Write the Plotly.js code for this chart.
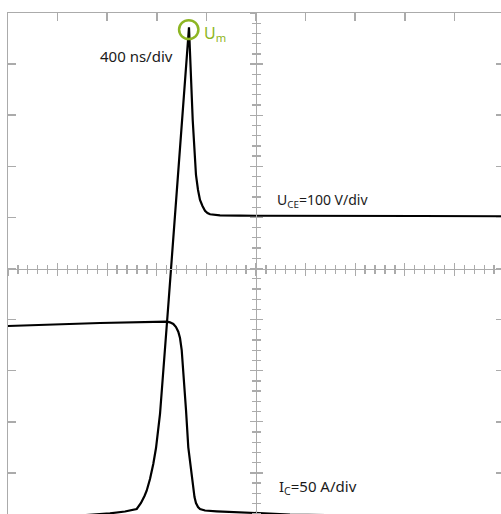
<!DOCTYPE html>
<html>
<head>
<meta charset="utf-8">
<script src="https://cdn.plot.ly/plotly-3.0.1.min.js"></script>
<style>
html,body{margin:0;padding:0;background:#fff;overflow:hidden;width:501px;height:514px;}
#chart{width:504px;height:524px;}
</style>
</head>
<body>
<div id="chart"></div>
<script>
// Time axis in divisions (400 ns/div), vertical in divisions
const uceX = [-5.0, -3.952, -2.944, -2.641, -2.405, -2.319, -2.248, -2.204, -2.137, -2.071, -2.016, -1.970, -1.935, -1.760, -1.496, -1.351,
              -1.276, -1.246, -1.210, -1.169, -1.129, -1.079, -1.028, -0.978, -0.927, -0.726, -0.323, 3.306, 5.0];
const uceY = [-4.92, -4.863, -4.791, -4.755, -4.706, -4.589, -4.452, -4.348, -4.119, -3.826, -3.513, -3.174, -2.847, -0.616, 2.906, 4.720,
              2.906, 2.319, 1.830, 1.536, 1.341, 1.223, 1.131, 1.086, 1.061, 1.041, 1.033, 1.027, 1.022];

const icX = [-5.0, -3.145, -1.800, -1.734, -1.667, -1.613, -1.567, -1.532, -1.498, -1.446, -1.411, -1.365, -1.276, -1.240, -1.210, -1.169, -1.129, -1.028, -0.792, -0.121, 0.685, 5.0];
const icY = [-1.125, -1.067, -1.041, -1.053, -1.086, -1.145, -1.237, -1.360, -1.595, -2.247, -2.769, -3.499, -4.282, -4.472, -4.589, -4.667, -4.706, -4.736, -4.751, -4.785, -4.814, -4.883];

const labels = {
  time: '400 ns/div',
  uce: 'U<sub>CE</sub>=100 V/div',
  ic: 'I<sub>C</sub>=50 A/div',
  um: 'U<sub>m</sub>'
};

const gridColor = '#ababab';
const green = '#8db523';

// peak of U_CE for the highlight circle
let pk = 0;
for (let i = 1; i < uceY.length; i++) if (uceY[i] > uceY[pk]) pk = i;
const px = uceX[pk], py = uceY[pk];

const traces = [
  {x: uceX, y: uceY, mode: 'lines', line: {color: '#000', width: 2.2}, hoverinfo: 'skip', showlegend: false},
  {x: icX, y: icY, mode: 'lines', line: {color: '#000', width: 2.2}, hoverinfo: 'skip', showlegend: false},
  {x: [], y: [], xaxis: 'x2', yaxis: 'y2', showlegend: false},
  {x: [], y: [], xaxis: 'x3', yaxis: 'y3', showlegend: false}
];

const base = {range: [-5, 5], showgrid: false, zeroline: false, showticklabels: false, fixedrange: true};
function centerAxis(extra) {
  return Object.assign({}, base, {
    anchor: 'free', position: 0.5, dtick: 1, tick0: 0,
    tickcolor: gridColor, tickwidth: 1.3, linecolor: gridColor, linewidth: 1.3
  }, extra);
}

const layout = {
  width: 504, height: 524,
  margin: {l: 8, r: 0, t: 13, b: 0, pad: 0},
  paper_bgcolor: '#fff', plot_bgcolor: '#fff',
  showlegend: false,
  font: {family: 'Noto Sans, sans-serif', color: '#1a1a1a', size: 14},
  xaxis: Object.assign({}, base, {side: 'top', showline: true, mirror: 'ticks', linecolor: gridColor, linewidth: 1.5,
    ticks: 'inside', ticklen: 8, tickwidth: 1.5, tickcolor: gridColor, dtick: 1, tick0: 0}),
  yaxis: Object.assign({}, base, {side: 'left', showline: true, mirror: 'ticks', linecolor: gridColor, linewidth: 1.5,
    ticks: 'inside', ticklen: 8, tickwidth: 1.5, tickcolor: gridColor, dtick: 1, tick0: 0}),
  xaxis2: centerAxis({overlaying: 'x', side: 'bottom', showline: true, ticks: 'outside', ticklen: 6,
    minor: {ticks: 'outside', ticklen: 4, dtick: 0.2, tick0: 0, tickcolor: gridColor, tickwidth: 1.3}}),
  yaxis2: centerAxis({overlaying: 'y', side: 'left', showline: true, ticks: 'outside', ticklen: 6,
    minor: {ticks: 'outside', ticklen: 4, dtick: 0.2, tick0: 0, tickcolor: gridColor, tickwidth: 1.3}}),
  xaxis3: centerAxis({overlaying: 'x', side: 'bottom', showline: false, ticks: 'inside', ticklen: 6,
    minor: {ticks: 'inside', ticklen: 4, dtick: 0.2, tick0: 0, tickcolor: gridColor, tickwidth: 1.3}}),
  yaxis3: centerAxis({overlaying: 'y', side: 'left', showline: false, ticks: 'inside', ticklen: 6,
    minor: {ticks: 'inside', ticklen: 4, dtick: 0.2, tick0: 0, tickcolor: gridColor, tickwidth: 1.3}}),
  shapes: [
    {type: 'circle', xref: 'x', yref: 'y', x0: px - 0.2, x1: px + 0.19, y0: py - 0.23, y1: py + 0.14,
     line: {color: green, width: 2.5}}
  ],
  annotations: [
    {text: labels.time, x: -3.18, y: 4.15, xref: 'x', yref: 'y', xanchor: 'left', yanchor: 'middle', showarrow: false,
     font: {size: 15}},
    {text: labels.uce, x: 0.39, y: 1.33, xref: 'x', yref: 'y', xanchor: 'left', yanchor: 'middle', showarrow: false,
     font: {size: 14}},
    {text: labels.ic, x: 0.43, y: -4.28, xref: 'x', yref: 'y', xanchor: 'left', yanchor: 'middle', showarrow: false,
     font: {size: 15}},
    {text: labels.um, x: -1.09, y: 4.6, xref: 'x', yref: 'y', xanchor: 'left', yanchor: 'middle', showarrow: false,
     font: {size: 16, color: green}}
  ]
};

Plotly.newPlot('chart', traces, layout, {staticPlot: true, displayModeBar: false});
</script>
</body>
</html>
